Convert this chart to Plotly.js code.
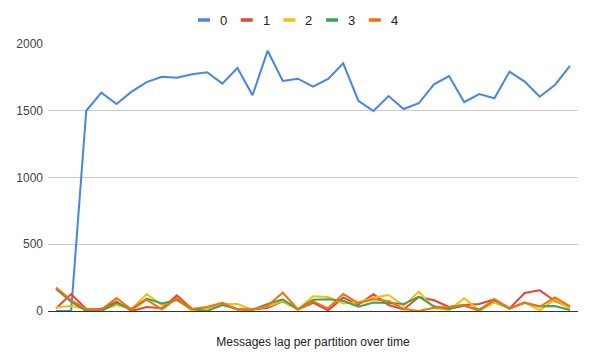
<!DOCTYPE html>
<html>
<head>
<meta charset="utf-8">
<script src="https://cdn.plot.ly/plotly-3.0.1.min.js"></script>
<style>html,body{margin:0;padding:0;background:#fff;}#chart{width:592px;height:363px;}</style>
</head>
<body>
<div id="chart"></div>
<script>
const seriesNames = ["0", "1", "2", "3", "4"];
const seriesColors = ["#4285F4", "#EA4335", "#FBBC04", "#34A853", "#FF6D01"];
const p0 = [0, 0, 1500, 1635, 1550, 1643, 1715, 1755, 1748, 1773, 1788, 1703, 1820, 1616, 1950, 1723, 1740, 1680, 1738, 1855, 1575, 1498, 1610, 1513, 1556, 1698, 1760, 1565, 1625, 1593, 1793, 1718, 1605, 1693, 1837];
const p1 = [20, 127, 15, 15, 70, 0, 30, 20, 117, 15, 20, 53, 12, 10, 25, 72, 12, 62, 5, 100, 48, 125, 45, 12, 105, 80, 30, 45, 52, 88, 20, 135, 155, 75, 25];
const p2 = [28, 37, 15, 5, 45, 15, 127, 45, 87, 0, 20, 50, 52, 10, 35, 75, 12, 110, 105, 57, 65, 100, 120, 40, 145, 22, 8, 95, 5, 62, 20, 65, 5, 85, 20];
const p3 = [165, 70, 0, 0, 60, 15, 93, 57, 82, 15, 0, 45, 15, 10, 52, 87, 12, 85, 88, 77, 32, 63, 60, 52, 107, 35, 15, 40, 10, 80, 20, 62, 36, 38, 8];
const p4 = [175, 80, 15, 10, 97, 10, 85, 13, 95, 15, 30, 62, 12, 12, 40, 137, 12, 72, 20, 127, 60, 88, 75, 15, 0, 25, 30, 45, 0, 88, 18, 63, 32, 102, 35];
const allSeries = [p0, p1, p2, p3, p4];
const xIndex = p0.map((_, i) => i);
const yTicks = [0, 500, 1000, 1500, 2000];
const chartTitle = "Messages lag per partition over time";

const traces = allSeries.map((vals, k) => ({
  type: "scatter", mode: "lines", name: seriesNames[k],
  x: xIndex, y: vals,
  line: {color: seriesColors[k], width: 2},
  showlegend: false, hoverinfo: "skip"
}));

// plot area pixels: left 48, right 578, top 44, bottom 311
const L = 48, R = 578, T = 44, B = 311;
const px = v => (v - L) / (R - L);
const py = v => (B - v) / (B - T);

const shapes = [];
const annotations = [];
seriesNames.forEach((n, k) => {
  const x0 = 198 + k * 42.7;
  shapes.push({type: "line", xref: "paper", yref: "paper",
    x0: px(x0), x1: px(x0 + 12), y0: py(20), y1: py(20),
    line: {color: seriesColors[k], width: 3.5}});
  annotations.push({xref: "paper", yref: "paper", x: px(x0 + 20), y: py(20),
    xanchor: "left", yanchor: "middle", showarrow: false, text: n,
    font: {family: "Liberation Sans, Arial, sans-serif", size: 13, color: "#222"}});
});

const layout = {
  width: 592, height: 363,
  margin: {l: L, r: 592 - R, t: T, b: 363 - B, pad: 0},
  paper_bgcolor: "#fff", plot_bgcolor: "#fff",
  font: {family: "Liberation Sans, Arial, sans-serif", size: 12, color: "#444"},
  xaxis: {range: [-0.53, xIndex.length - 1 + 0.53], showgrid: false, zeroline: false,
    showticklabels: false, ticks: "", showline: false, fixedrange: true,
    title: {text: chartTitle, font: {size: 12, color: "#222"}, standoff: 26}, automargin: false},
  yaxis: {range: [0, 2000], tickvals: yTicks, ticktext: yTicks.map(String),
    showgrid: true, gridcolor: "#cccccc", gridwidth: 1,
    zeroline: true, zerolinecolor: "#333333", zerolinewidth: 1,
    showline: false, ticks: "", ticklabelstandoff: 4, automargin: false,
    tickfont: {size: 12, color: "#444"}},
  shapes: shapes, annotations: annotations, showlegend: false
};

Plotly.newPlot("chart", traces, layout, {displayModeBar: false, staticPlot: true});
</script>
</body>
</html>
